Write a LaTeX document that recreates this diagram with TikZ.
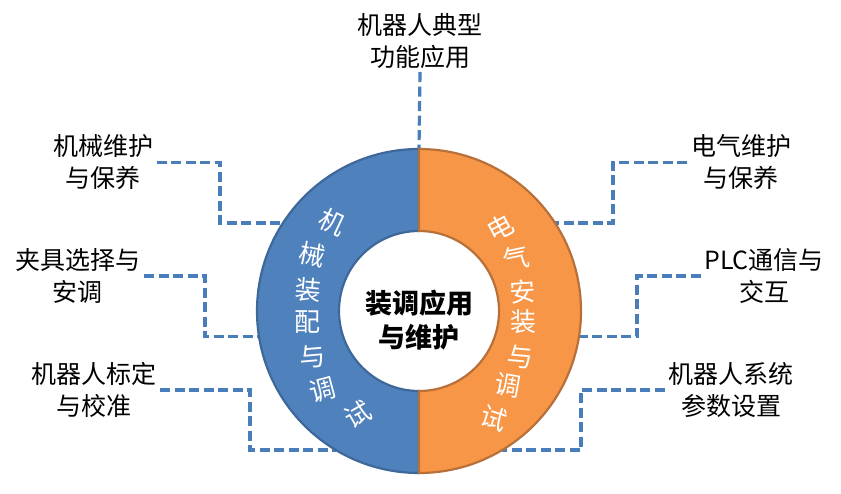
\documentclass[tikz,border=0pt]{standalone}
\usepackage{fontspec}
\setmainfont{Noto Sans CJK SC}
\usetikzlibrary{positioning}
\definecolor{mechblue}{HTML}{4F81BD}
\definecolor{mechedge}{HTML}{3D6899}
\definecolor{elecorange}{HTML}{F79646}
\definecolor{elecedge}{HTML}{B8703A}
\definecolor{linkblue}{HTML}{4A7EBB}
\tikzset{
  label/.style={align=center,text=black,font=\fontsize{25}{32}\selectfont},
  link/.style={draw=linkblue,line width=3.2pt,dash pattern=on 10pt off 4.5pt},
  ringtext/.style={text=white,font=\fontsize{26}{26}\selectfont,inner sep=0pt},
  hub/.style={align=center,font=\fontsize{27}{34}\selectfont\bfseries}}

\begin{document}
\begin{tikzpicture}[x=1pt,y=1pt]
      \useasboundingbox (0,0) rectangle (841,494);
      \coordinate (c) at (419,183);
      % outer labels
      \node[label] (top) at (420,453) {机器人典型\\功能应用};
      \node[label] (l1) at (103,331.5) {机械维护\\与保养};
      \node[label] (l2) at (78,218) {夹具选择与\\安调};
      \node[label] (l3) at (94,104) {机器人标定\\与校准};
      \node[label] (r1) at (741,331.5) {电气维护\\与保养};
      \node[label] (r2) at (764,218) {PLC通信与\\交互};
      \node[label] (r3) at (731,104) {机器人系统\\参数设置};
      % points on the outer rim
      \begin{scope}[shift={(c)}]
        \coordinate (a0) at (90:162);
        \coordinate (a1) at (147.1:162);
        \coordinate (a2) at (189.2:162);
        \coordinate (a3) at (239.1:162);
        \coordinate (b1) at (32.9:162);
        \coordinate (b2) at (-9.2:162);
        \coordinate (b3) at (-59.1:162);
      \end{scope}
      \draw[link] (top.south) -- (a0);
      \draw[link] (l1.east) -| (220,0 |- a1) -- (a1);
      \draw[link] (l2.east) -| (205,0 |- a2) -- (a2);
      \draw[link] (l3.east) -| (250,0 |- a3) -- (a3);
      \draw[link] (r1.west) -| (613,0 |- b1) -- (b1);
      \draw[link] (r2.west) -| (637,0 |- b2) -- (b2);
      \draw[link] (r3.west) -| (581,0 |- b3) -- (b3);
      % the two half rings
      \begin{scope}[shift={(c)}]
        \filldraw[fill=mechblue,draw=mechedge,line width=2.2pt]
          (90:162) arc[start angle=90,end angle=270,radius=162]
          -- (270:80) arc[start angle=270,end angle=90,radius=80] -- cycle;
        \filldraw[fill=elecorange,draw=elecedge,line width=2.2pt]
          (90:162) arc[start angle=90,end angle=-90,radius=162]
          -- (-90:80) arc[start angle=-90,end angle=90,radius=80] -- cycle;
        \foreach \ch/\ang/\r/\rot [count=\i] in {机/134.4/124/-25, 械/152.4/121/-12,
          装/169.3/113/-5, 配/185.7/112/0, 与/203.3/116/5, 调/219.2/124/15, 试/239.5/120/30}
          \node[ringtext,rotate=\rot] (m\i) at (\ang:\r) {\ch};
        \foreach \ch/\ang/\r/\rot [count=\i] in {电/45.7/116/28, 气/28.4/111/12,
          安/10.4/106/4, 装/-6/105/0, 与/-24.5/111/-5, 调/-40/116/-10, 试/-55/131/-18}
          \node[ringtext,rotate=\rot] (e\i) at (\ang:\r) {\ch};
      \end{scope}
      \node[hub] (hub) at (419,174) {装调应用\\与维护};
    \end{tikzpicture}
\end{document}
